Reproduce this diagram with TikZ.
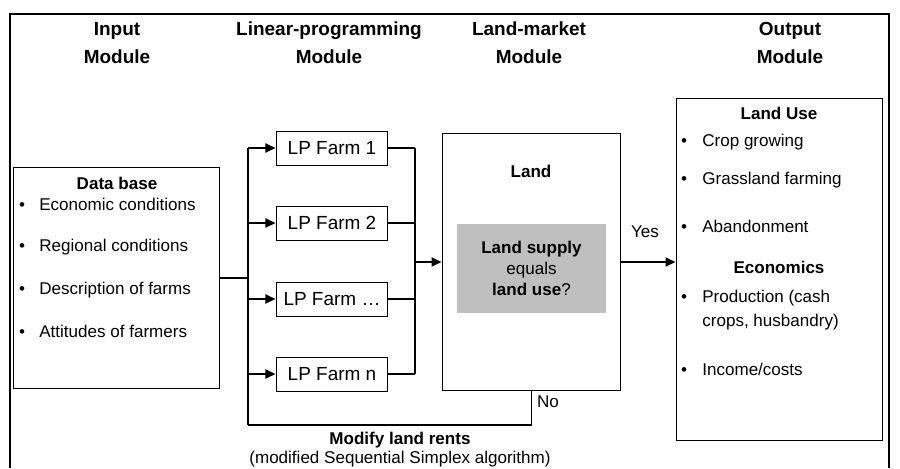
\documentclass[tikz,border=0pt]{standalone}
\usepackage{fontspec}
\setmainfont{Liberation Sans}
\usetikzlibrary{arrows.meta, positioning}
\definecolor{supplyGray}{gray}{0.75}
\definecolor{mainBlack}{gray}{0}

\begin{document}
\begin{tikzpicture}[x=0.02cm, y=-0.02cm,
    modbox/.style={draw=mainBlack, line width=0.57pt, inner sep=0pt},
    lpbox/.style={draw=mainBlack, line width=0.57pt, minimum width=2.24cm, minimum height=0.68cm, font=\fontsize{10.8}{13}\selectfont},
    head/.style={font=\fontsize{10.8}{15.9}\selectfont\bfseries, align=center},
    txt/.style={font=\fontsize{9.7}{13.6}\selectfont, inner sep=0pt},
    conn/.style={line width=1.13pt, mainBlack},
    flow/.style={conn, -{Triangle[length=5.7pt, width=5.1pt]}}]
    \useasboundingbox (0,0) rectangle (900,468);

    % Rahmen (unten offen)
    \draw[conn] (10,468) |- (889,14) -- (889,468);

    % Modulueberschriften
    \node[head] (inhead) at (117,43) {Input\\Module};
    \node[head] (lphead) at (329,43) {Linear-programming\\Module};
    \node[head] (lmhead) at (529,43) {Land-market\\Module};
    \node[head] (outhead) at (790,43) {Output\\Module};

    % Input: Datenbasis
    \node[modbox, minimum width=4.14cm, minimum height=4.44cm] (database) at (116.5,278) {};
    \node[txt, font=\fontsize{9.7}{13.6}\selectfont\bfseries, anchor=mid] (dbtitle) at (117,185) {Data base};
    \foreach \y/\t [count=\i] in {206/Economic conditions, 247/Regional conditions,
                                  290/Description of farms, 333/Attitudes of farmers} {
        \node[txt, anchor=mid] (dbdot\i) at (22,\y) {•};
        \node[txt, anchor=mid west] (db\i) at (39,\y) {\t};
    }

    % LP-Betriebe
    \node[lpbox] (lp1) at (332,148) {LP Farm 1};
    \node[lpbox] (lp2) at (332,223) {LP Farm 2};
    \node[lpbox] (lp3) at (332,299) {LP Farm …};
    \node[lpbox] (lp4) at (332,374) {LP Farm n};

    % Bodenmarkt
    \node[modbox, minimum width=3.58cm, minimum height=5.16cm] (land) at (531.5,262) {};
    \node[txt, font=\fontsize{9.7}{13.6}\selectfont\bfseries, anchor=mid] (landtitle) at (531,173) {Land};
    \node[fill=supplyGray, minimum width=2.98cm, minimum height=1.78cm, inner sep=0pt,
          font=\fontsize{9.7}{11.8}\selectfont, align=center] (supply) at (531.5,268.5)
          {\textbf{Land supply}\\equals\\\textbf{land use}?};

    % Output
    \node[modbox, minimum width=4.14cm, minimum height=6.86cm] (outbox) at (779.5,269.5) {};
    \node[txt, font=\fontsize{9.7}{13.6}\selectfont\bfseries, anchor=mid] (usetitle) at (779,115) {Land Use};
    \foreach \y/\t [count=\i] in {142/Crop growing, 180/Grassland farming, 228/Abandonment} {
        \node[txt, anchor=mid] (usedot\i) at (684,\y) {•};
        \node[txt, anchor=mid west] (use\i) at (702,\y) {\t};
    }
    \node[txt, font=\fontsize{9.7}{13.6}\selectfont\bfseries, anchor=mid] (ecotitle) at (779,269) {Economics};
    \node[txt, anchor=mid] (ecodot1) at (684,298) {•};
    \node[txt, anchor=mid west] (eco1) at (702,298) {Production (cash};
    \node[txt, anchor=mid west] (eco2) at (702,322) {crops, husbandry)};
    \node[txt, anchor=mid] (ecodot3) at (684,371) {•};
    \node[txt, anchor=mid west] (eco3) at (702,371) {Income/costs};

    % Verbindungen
    \coordinate (lsplit) at (248,278);
    \coordinate (ltop) at (248,148);
    \coordinate (lbot) at (248,425);
    \coordinate (rtop) at (415,148);
    \coordinate (rbot) at (415,374);
    \coordinate (rmid) at (415,262);

    \draw[conn] (database.east |- lsplit) -- (lsplit);
    \draw[conn] (ltop) -- (lbot);
    \foreach \i in {1,...,4} {
        \draw[flow] (ltop |- lp\i) -- (lp\i.west);
        \draw[conn] (lp\i.east) -- (rtop |- lp\i);
    }
    \draw[conn] (rtop) -- (rbot);
    \draw[flow] (rmid) -- (land.west);
    \draw[flow] (land.east) -- (land.east -| outbox.west);
    \draw[conn] (land.south) |- (lbot);

    % Beschriftungen
    \node[txt, anchor=mid] (yes) at (645,233) {Yes};
    \node[txt, anchor=mid] (no) at (548,403) {No};
    \node[font=\fontsize{9.7}{10.8}\selectfont, align=center, inner sep=0pt] (modify) at (400,450)
        {\textbf{Modify land rents}\\(modified Sequential Simplex algorithm)};
\end{tikzpicture}
\end{document}
